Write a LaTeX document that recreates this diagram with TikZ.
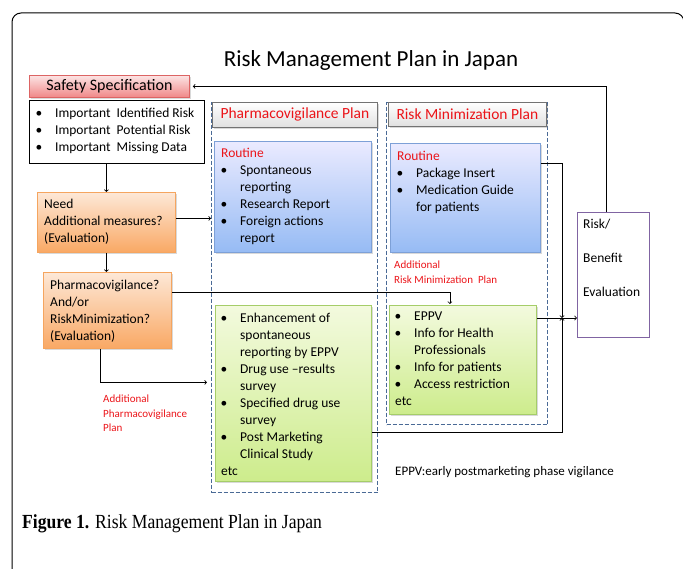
\documentclass[tikz,border=0pt]{standalone}
\usepackage{fontspec}
\setmainfont{Carlito}
\newfontfamily\capfont[FakeStretch=0.88]{Liberation Serif}
\usetikzlibrary{shadows}

\definecolor{planred}{RGB}{235,20,25}
\definecolor{dashblue}{RGB}{74,106,150}
\definecolor{edgeblue}{RGB}{125,160,215}
\definecolor{edgegreen}{RGB}{165,205,105}
\definecolor{edgeorange}{RGB}{245,165,95}
\definecolor{edgepink}{RGB}{220,100,100}
\definecolor{evalpurple}{RGB}{128,100,162}

% bullet and empty indent for the item lists
\newcommand{\bl}{\makebox[19pt][l]{\hspace{-0.5pt}\textbullet}}
\newcommand{\nb}{\makebox[19pt]{}}

\begin{document}
\begin{tikzpicture}[x=1pt,y=-1pt,
  box/.style={draw,anchor=north west,inner sep=0pt,line width=0.8pt},
  shade/.style={drop shadow={shadow xshift=1.2pt,shadow yshift=-1.2pt,opacity=.3}},
  bluebox/.style={box,shade,draw=edgeblue,top color=blue!8!white,bottom color={rgb,255:red,150;green,187;blue,244}},
  greenbox/.style={box,shade,draw=edgegreen,top color={rgb,255:red,243;green,250;blue,222},bottom color={rgb,255:red,205;green,236;blue,140}},
  orangebox/.style={box,shade,draw=edgeorange,top color={rgb,255:red,253;green,232;blue,215},bottom color={rgb,255:red,249;green,168;blue,100}},
  pinkbox/.style={box,shade,draw=edgepink,top color={rgb,255:red,252;green,228;blue,228},bottom color={rgb,255:red,240;green,135;blue,135}},
  plan/.style={draw=dashblue,dash pattern=on 4pt off 2pt,line width=1.3pt,anchor=north west,inner sep=0pt},
  header/.style={box,shade,draw=black!55,top color=white,bottom color=black!12,text=planred,font=\fontsize{15.5}{18}\selectfont},
  txt/.style={anchor=north west,align=left,inner sep=0pt,font=\fontsize{13.5}{17}\selectfont},
  redtxt/.style={txt,text=planred,font=\fontsize{11}{14.5}\selectfont},
  arr/.style={->,line width=0.8pt}]
\useasboundingbox (0,0) rectangle (683,569);
\clip (0,0) rectangle (683,569);
% Draw the frame
\draw[line width=1pt,rounded corners=9pt] (12,13) rectangle (684,700);
% Title
\node[anchor=base,font=\fontsize{23}{28}\selectfont] (title) at (371,67) {Risk Management Plan in Japan};

% Safety specification and its list
\node[pinkbox,minimum width=160pt,minimum height=22pt,font=\fontsize{16}{19}\selectfont] (ss) at (29,75) {Safety Specification};
\node[box,minimum width=175pt,minimum height=63pt,line width=1pt] (risks) at (29,100) {};
\node[txt] (risklist) at (36,108) {\bl Important\ \ Identified Risk\\ \bl Important\ \ Potential Risk\\ \bl Important\ \ Missing Data};

% Evaluation boxes
\node[orangebox,minimum width=138pt,minimum height=60pt] (need) at (37,192) {};
\node[txt] (needtxt) at (44,199) {Need\\Additional measures?\\(Evaluation)};
\node[orangebox,minimum width=128pt,minimum height=76pt] (phv) at (43,272) {};
\node[txt] (phvtxt) at (50,280) {Pharmacovigilance?\\And/or\\RiskMinimization?\\(Evaluation)};
\node[redtxt] (addpv) at (103,395) {Additional\\Pharmacovigilance\\Plan};

% Pharmacovigilance plan
\node[plan,minimum width=166pt,minimum height=390pt] (pvplan) at (211,102) {};
\node[header,minimum width=165pt,minimum height=25pt] (pvhead) at (212,102) {Pharmacovigilance Plan};
\node[bluebox,minimum width=157pt,minimum height=111pt] (pvr) at (214,141) {};
\node[txt] (pvrtxt) at (221,148) {\textcolor{planred}{Routine}\\ \bl Spontaneous\\ \nb reporting\\ \bl Research Report\\ \bl Foreign actions\\ \nb report};
\node[greenbox,minimum width=156pt,minimum height=176pt] (pva) at (215,305) {};
\node[txt] (pvatxt) at (221,313) {\bl Enhancement of\\ \nb spontaneous\\ \nb reporting by EPPV\\ \bl Drug use –results\\ \nb survey\\ \bl Specified drug use\\ \nb survey\\ \bl Post Marketing\\ \nb Clinical Study\\ etc};

% Risk minimization plan
\node[plan,minimum width=161pt,minimum height=322pt] (rmplan) at (386,102) {};
\node[header,minimum width=158pt,minimum height=24pt] (rmhead) at (388,102) {Risk Minimization Plan};
\node[bluebox,minimum width=150pt,minimum height=109pt] (rmr) at (390,143) {};
\node[txt] (rmrtxt) at (397,151) {\textcolor{planred}{Routine}\\ \bl Package Insert\\ \bl Medication Guide\\ \nb for patients};
\node[redtxt] (addrm) at (394,261) {Additional\\Risk Minimization\ \ Plan};
\node[greenbox,minimum width=147pt,minimum height=109pt] (rma) at (389,305) {};
\node[txt] (rmatxt) at (395,312) {\bl EPPV\\ \bl Info for Health\\ \nb Professionals\\ \bl Info for patients\\ \bl Access restriction\\ etc};
\node[txt,font=\fontsize{13}{16}\selectfont] (eppv) at (395,466) {EPPV:early postmarketing phase vigilance};

% Risk/benefit evaluation
\node[box,draw=evalpurple,line width=1.3pt,minimum width=72pt,minimum height=125pt] (rb) at (577,212) {};
\node[txt] (rbtxt) at (583,219) {Risk/\\[17pt]Benefit\\[17pt]Evaluation};

% Draw the arrows
\draw[arr] ([xshift=-7pt]rb.north) |- ([xshift=3pt]ss.east);
\draw[arr] (risks.south -| need.north) -- (need.north);
\draw[arr] ([yshift=4pt]need.east) -- ([yshift=4pt]need.east -| pvplan.west);
\draw[arr] (need.south) -- (need.south |- phv.north);
\draw[arr,shorten >=1pt] ([yshift=18pt]phv.east) -| ([xshift=-13pt]rma.north);
\draw[arr,shorten >=8pt] ([xshift=-7pt]phv.south) |- ([yshift=11pt]pva.west);
\coordinate (merge) at (562,318);
\draw[arr] ([yshift=-39pt]pva.east) -| (merge);
\draw[arr] ([yshift=34.5pt]rmr.east) -| (merge);
\draw[arr] (rma.east |- merge) -- (merge -| rb.west);

% Caption
\node[anchor=base west,inner sep=0pt,font=\capfont\fontsize{20}{24}\selectfont] (caption) at (22,528) {\textbf{Figure 1.} Risk Management Plan in Japan};
\end{tikzpicture}
\end{document}
